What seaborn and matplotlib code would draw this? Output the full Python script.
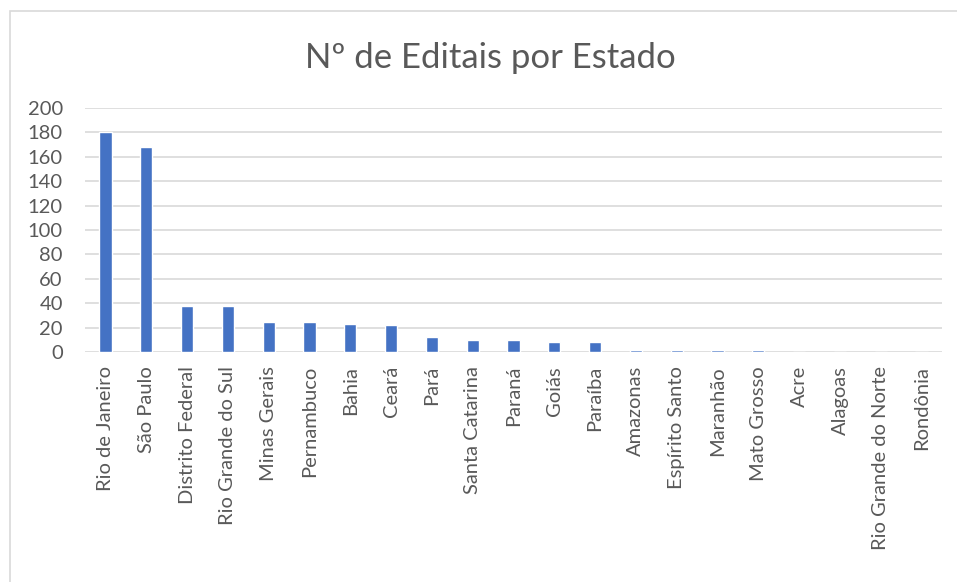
import matplotlib.pyplot as plt
import seaborn as sns
from matplotlib.patches import Rectangle

estados = [
    "Rio de Janeiro", "São Paulo", "Distrito Federal", "Rio Grande do Sul",
    "Minas Gerais", "Pernambuco", "Bahia", "Ceará", "Pará", "Santa Catarina",
    "Paraná", "Goiás", "Paraíba", "Amazonas", "Espírito Santo", "Maranhão",
    "Mato Grosso", "Acre", "Alagoas", "Rio Grande do Norte", "Rondônia",
]
editais = [180, 168, 38, 38, 25, 25, 23, 22, 12, 10, 10, 8, 8, 2, 2, 2, 2, 0, 0, 0, 0]
y_ticks = list(range(0, 201, 20))

sns.set_style("white")
plt.rcParams["font.family"] = ["Lato", "DejaVu Sans"]
text_color = "#595959"
grid_color = "#d9d9d9"

fig = plt.figure(figsize=(9.57, 5.82), dpi=100)
ax = fig.add_axes([85 / 957, 1 - 352 / 582, (942 - 85) / 957, (352 - 108) / 582])

sns.barplot(x=estados, y=editais, color="#4472C4", width=0.3, saturation=1, ax=ax,
            zorder=3)

ax.set_ylim(0, 200)
ax.set_yticks(y_ticks)
ax.set_xlim(-0.5, len(estados) - 0.5)
for y in y_ticks:
    ax.axhline(y, color=grid_color, lw=1.2, zorder=0)
for s in ax.spines.values():
    s.set_visible(False)

ax.tick_params(axis="y", length=0, pad=16, labelsize=14.5, labelcolor=text_color)
ax.tick_params(axis="x", length=0, pad=10, labelsize=14.5, labelcolor=text_color)
plt.setp(ax.get_xticklabels(), rotation=90, ha="center", va="top")

fig.text(490 / 957, 1 - 58 / 582, "Nº de Editais por Estado", ha="center", va="center",
         fontsize=25, color=text_color)

# chart frame
fig.patches.append(Rectangle((10 / 957, -0.1), 1.2, 1 - 11 / 582 + 0.1, transform=fig.transFigure,
                             fill=False, edgecolor=grid_color, lw=1.2))

fig.savefig("out.png", dpi=100)
